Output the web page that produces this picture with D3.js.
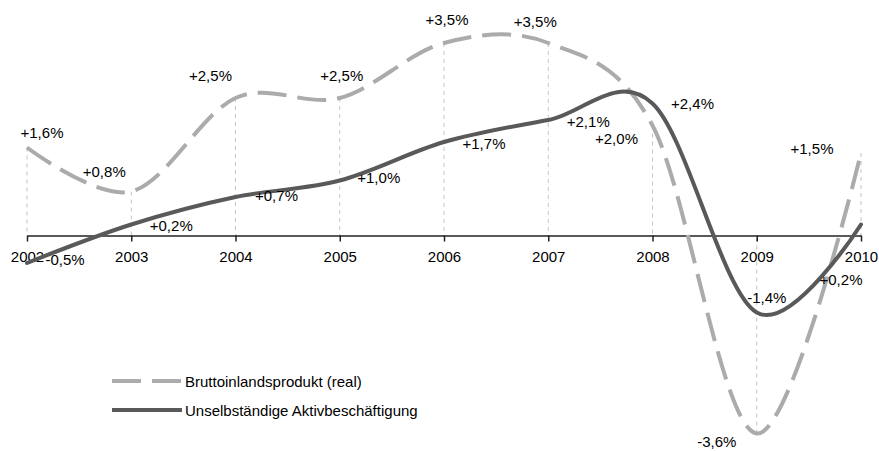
<!DOCTYPE html>
<html><head><meta charset="utf-8">
<script src="https://cdn.jsdelivr.net/npm/d3@7"></script>
<style>
html,body{margin:0;padding:0;background:#fff;}
svg{display:block;font-family:"Liberation Sans",Arial,sans-serif;}
</style></head>
<body>
<svg id="chart" width="879" height="451"></svg>
<script>
// ---- data ----
const years = [2002, 2003, 2004, 2005, 2006, 2007, 2008, 2009, 2010];
const gdp = [1.6, 0.8, 2.5, 2.5, 3.5, 3.5, 2.0, -3.6, 1.5];
const employment = [-0.5, 0.2, 0.7, 1.0, 1.7, 2.1, 2.4, -1.4, 0.2];
const seriesNames = ["Bruttoinlandsprodukt (real)", "Unselbständige Aktivbeschäftigung"];
// label placement (offset from point, px): [dx, dy]
const gdpLabelOffsets = [[15,-9.5],[-27,-14.5],[-25,-17],[2,-17],[3,-18],[-13,-16],[-36,18.5],[-40,13.5],[-49,1]];
const empLabelOffsets = [[38,2],[40,6.5],[41,4],[39,2.5],[40,7],[40,7],[40,5.5],[10,-9.5],[-20,60.5]];

const fmt = v => (v > 0 ? "+" : (v < 0 ? "-" : "")) + Math.abs(v).toFixed(1).replace(".", ",") + "%";

const svg = d3.select("#chart");
const x = d3.scaleLinear().domain([2002, 2010]).range([27, 861]);
const y = d3.scaleLinear().domain([0, 1]).range([235.5, 180.5]);

const GDP_COLOR = "#ababab", EMP_COLOR = "#595959";
const DASH = "29,11";
const FS = 15;

// drop lines from GDP points to axis
svg.append("g").selectAll("line").data(years).join("line")
  .attr("x1", d => x(d)).attr("x2", d => x(d))
  .attr("y1", (d, i) => y(gdp[i])).attr("y2", y(0))
  .attr("stroke", "#c4c4c4").attr("stroke-width", 1).attr("stroke-dasharray", "4,4");

// axis
const axis = d3.axisBottom(x).tickValues(years).tickFormat(d3.format("d"))
  .tickSize(6).tickSizeOuter(0).tickPadding(10);
const ag = svg.append("g").attr("transform", `translate(0,${y(0)})`).call(axis);
ag.select(".domain").attr("stroke", "#222").attr("stroke-width", 1.5);
ag.selectAll(".tick line").attr("stroke", "#222").attr("stroke-width", 1.5);
ag.selectAll(".tick text").attr("font-size", FS).attr("font-family", "Liberation Sans, Arial, sans-serif").attr("fill", "#000");

// lines
const curve = d3.curveCardinal.tension(0);
const lineGen = vals => d3.line().curve(curve).x((d, i) => x(years[i])).y(d => y(d))(vals);

svg.append("path").attr("d", lineGen(gdp)).attr("fill", "none")
  .attr("stroke", GDP_COLOR).attr("stroke-width", 4).attr("stroke-dasharray", DASH);
svg.append("path").attr("d", lineGen(employment)).attr("fill", "none")
  .attr("stroke", EMP_COLOR).attr("stroke-width", 4).attr("stroke-linecap", "round");

// value labels
function labels(vals, offs) {
  svg.append("g").selectAll("text").data(vals).join("text")
    .attr("x", (d, i) => x(years[i]) + offs[i][0])
    .attr("y", (d, i) => y(d) + offs[i][1])
    .attr("text-anchor", "middle").attr("font-size", FS).attr("fill", "#000")
    .text(d => fmt(d));
}
labels(gdp, gdpLabelOffsets);
labels(employment, empLabelOffsets);

// legend
const lg = svg.append("g");
const legendItems = [
  {name: seriesNames[0], color: GDP_COLOR, dash: DASH, y: 381},
  {name: seriesNames[1], color: EMP_COLOR, dash: null, y: 410}
];
legendItems.forEach(it => {
  lg.append("line").attr("x1", 112).attr("x2", 182).attr("y1", it.y).attr("y2", it.y)
    .attr("stroke", it.color).attr("stroke-width", 4).attr("stroke-dasharray", it.dash);
  lg.append("text").attr("x", 185).attr("y", it.y + 5.5).attr("font-size", FS).attr("fill", "#000").text(it.name);
});
</script>
</body></html>
